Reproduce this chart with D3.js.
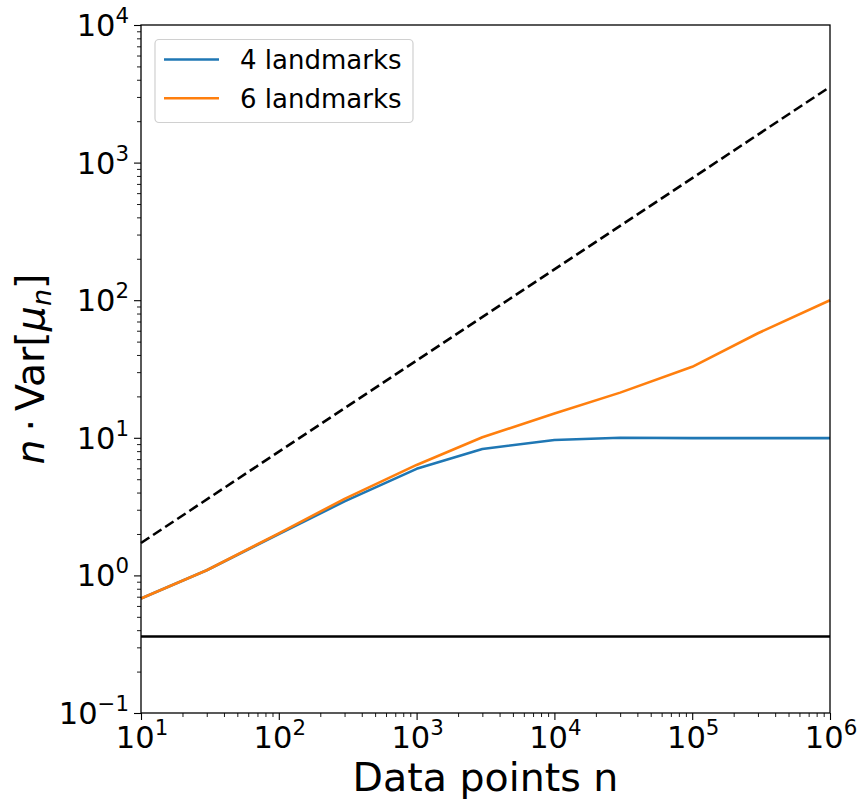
<!DOCTYPE html>
<html>
<head>
<meta charset="utf-8">
<script src="https://cdn.jsdelivr.net/npm/d3@7"></script>
<style>
  html, body { margin: 0; padding: 0; background: #fff; }
  svg { display: block; font-family: "DejaVu Sans", sans-serif; }
</style>
</head>
<body>
<svg id="chart" width="859" height="801"></svg>
<script>
// ---- data ----
const nValues = [10, 30, 100, 300, 1000, 3000, 10000, 30000, 100000, 300000, 1000000];
const landmarks4 = [0.68, 1.09, 2.0, 3.45, 5.95, 8.3, 9.65, 10.0, 9.95, 9.95, 9.95];
const landmarks6 = [0.68, 1.09, 2.02, 3.6, 6.35, 10.1, 15.0, 21.3, 32.8, 57.5, 100];
const dashedN = [10, 1000000];
const dashedValues = [1.72, 3550];
const baselineN = [10, 1000000];
const baselineValues = [0.36, 0.36];
const xTickExponents = [1, 2, 3, 4, 5, 6];
const yTickExponents = [-1, 0, 1, 2, 3, 4];
const seriesNames = ["4 landmarks", "6 landmarks"];
const seriesColors = ["#1f77b4", "#ff7f0e"];

// ---- layout ----
const margin = { left: 141, right: 29, top: 25, bottom: 88 };
const W = 859, H = 801;
const svg = d3.select("#chart");

const x = d3.scaleLog().domain([1e1, 1e6]).range([margin.left, W - margin.right]);
const y = d3.scaleLog().domain([1e-1, 1e4]).range([H - margin.bottom, margin.top]);

function minorTicks(exps) {
  const out = [];
  for (let i = 0; i < exps.length - 1; i++) {
    for (let m = 2; m <= 9; m++) out.push(m * Math.pow(10, exps[i]));
  }
  return out;
}

const xMajor = xTickExponents.map(e => Math.pow(10, e));
const yMajor = yTickExponents.map(e => Math.pow(10, e));

// plot lines
const line = d3.line().x(d => x(d[0])).y(d => y(d[1]));
const plotG = svg.append("g");

plotG.append("path")
  .datum(dashedN.map((n, i) => [n, dashedValues[i]]))
  .attr("d", line).attr("fill", "none").attr("stroke", "#000")
  .attr("stroke-width", 2.6).attr("stroke-dasharray", "10,4.5");

plotG.append("path")
  .datum(baselineN.map((n, i) => [n, baselineValues[i]]))
  .attr("d", line).attr("fill", "none").attr("stroke", "#000")
  .attr("stroke-width", 2.6);

[landmarks4, landmarks6].forEach((vals, k) => {
  plotG.append("path")
    .datum(nValues.map((n, i) => [n, vals[i]]))
    .attr("d", line).attr("fill", "none").attr("stroke", seriesColors[k])
    .attr("stroke-width", 2.6).attr("stroke-linejoin", "round");
});

// axes
function styleAxis(g) {
  g.selectAll(".domain").remove();
  g.selectAll(".tick line").attr("stroke", "#000").attr("stroke-width", 1.1);
}

const xAxisMajor = svg.append("g")
  .attr("transform", `translate(0,${H - margin.bottom})`)
  .call(d3.axisBottom(x).tickValues(xMajor).tickSize(7).tickPadding(8).tickFormat(() => ""));
styleAxis(xAxisMajor);
const xAxisMinor = svg.append("g")
  .attr("transform", `translate(0,${H - margin.bottom})`)
  .call(d3.axisBottom(x).tickValues(minorTicks(xTickExponents)).tickSize(4).tickFormat(() => ""));
styleAxis(xAxisMinor);
xAxisMinor.selectAll(".tick line").attr("stroke-width", 0.9);

const yAxisMajor = svg.append("g")
  .attr("transform", `translate(${margin.left},0)`)
  .call(d3.axisLeft(y).tickValues(yMajor).tickSize(7).tickFormat(() => ""));
styleAxis(yAxisMajor);
const yAxisMinor = svg.append("g")
  .attr("transform", `translate(${margin.left},0)`)
  .call(d3.axisLeft(y).tickValues(minorTicks(yTickExponents)).tickSize(4).tickFormat(() => ""));
styleAxis(yAxisMinor);
yAxisMinor.selectAll(".tick line").attr("stroke-width", 0.9);

// tick labels with superscripts
function powLabel(g, exp) {
  const t = g.append("text").attr("fill", "#000").style("font-size", "30.5px");
  t.append("tspan").text("10");
  t.append("tspan").attr("dy", -13).style("font-size", "21.3px").text(exp < 0 ? "\u2212" + Math.abs(exp) : String(exp));
  return t;
}
xTickExponents.forEach(e => {
  const g = svg.append("g").attr("transform", `translate(${x(Math.pow(10, e)) + 1},${H - margin.bottom + 35})`);
  powLabel(g, e).attr("text-anchor", "middle");
});
yTickExponents.forEach(e => {
  const g = svg.append("g").attr("transform", `translate(${margin.left - 12},${y(Math.pow(10, e)) + 11})`);
  powLabel(g, e).attr("text-anchor", "end");
});

// frame
svg.append("rect")
  .attr("x", margin.left).attr("y", margin.top)
  .attr("width", W - margin.right - margin.left)
  .attr("height", H - margin.bottom - margin.top)
  .attr("fill", "none").attr("stroke", "#000").attr("stroke-width", 1.3);

// axis titles
svg.append("text")
  .attr("x", (margin.left + W - margin.right) / 2).attr("y", 791)
  .attr("text-anchor", "middle").style("font-size", "39.5px").attr("fill", "#000")
  .text("Data points n");

const yl = svg.append("text")
  .attr("transform", `translate(44,${(margin.top + H - margin.bottom) / 2}) rotate(-90)`)
  .attr("text-anchor", "middle").style("font-size", "39.5px").attr("fill", "#000");
yl.append("tspan").style("font-style", "italic").text("n");
yl.append("tspan").text("\u2009\u00B7\u2009Var[");
yl.append("tspan").style("font-style", "italic").text("\u03BC");
yl.append("tspan").attr("dy", 7).style("font-style", "italic").style("font-size", "27px").text("n");
yl.append("tspan").attr("dy", -7).text("]");

// legend
const lg = svg.append("g");
lg.append("rect")
  .attr("x", 155).attr("y", 39.5).attr("width", 258).attr("height", 83)
  .attr("rx", 4).attr("fill", "#fff").attr("fill-opacity", 0.8)
  .attr("stroke", "#d0d0d0").attr("stroke-width", 1.2);
seriesNames.forEach((name, i) => {
  const cy = 59.5 + i * 38.7;
  lg.append("line").attr("x1", 164).attr("x2", 219).attr("y1", cy).attr("y2", cy)
    .attr("stroke", seriesColors[i]).attr("stroke-width", 2.6);
  lg.append("text").attr("x", 240).attr("y", cy + 9.5)
    .style("font-size", "26px").attr("fill", "#000").text(name);
});
</script>
</body>
</html>
